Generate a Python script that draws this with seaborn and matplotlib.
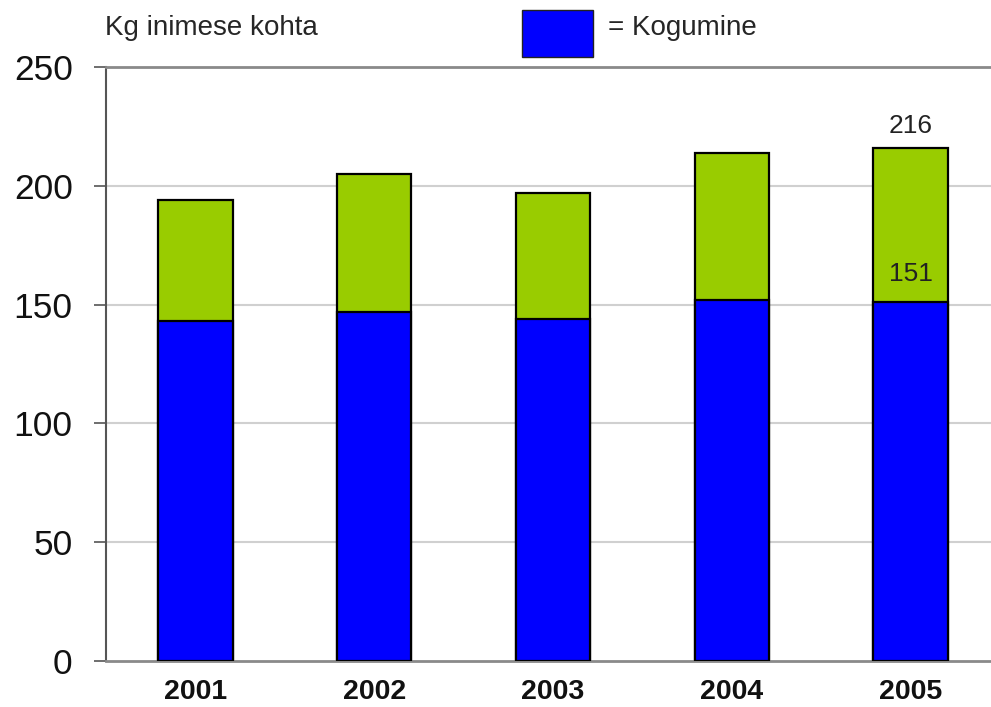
import matplotlib
matplotlib.use("Agg")
import matplotlib.pyplot as plt
import seaborn as sns
import pandas as pd
from matplotlib.patches import Rectangle

years = ["2001", "2002", "2003", "2004", "2005"]
total = [194, 205, 197, 214, 216]
collected = [143, 147, 144, 152, 151]
yticks = [0, 50, 100, 150, 200, 250]

sns.set_style("white")
plt.rcParams["font.family"] = ["Liberation Sans", "DejaVu Sans"]

df = pd.DataFrame({"year": years, "total": total, "collected": collected})

fig = plt.figure(figsize=(9.91, 7.07), dpi=100)
ax = fig.add_axes([0.107, 0.065, 0.893, 0.84])

ax.set_axisbelow(True)
for v in yticks[1:-1]:
    ax.axhline(v, color="#d0d0d0", lw=1.5, zorder=0)

sns.barplot(data=df, x="year", y="total", color="#99CC00", width=0.415,
            edgecolor="black", linewidth=1.6, saturation=1, ax=ax, zorder=2)
sns.barplot(data=df, x="year", y="collected", color="#0000FF", width=0.415,
            edgecolor="black", linewidth=1.6, saturation=1, ax=ax, zorder=3)

ax.set_ylim(0, 250)
ax.set_xlim(-0.5, 4.45)
ax.set_yticks(yticks)
ax.set_yticklabels([str(t) for t in yticks], fontsize=25.5, color="#111111")
ax.set_xticks(range(len(years)))
ax.set_xticklabels(years, fontsize=20.5, fontweight="bold", color="#111111")
ax.set_xlabel("")
ax.set_ylabel("")
ax.tick_params(axis="y", left=True, length=9, width=1.2, color="#555555", pad=15)
ax.tick_params(axis="x", bottom=False, length=0, pad=13)

for s in ["top", "bottom"]:
    ax.spines[s].set_visible(True)
    ax.spines[s].set_color("#8a8a8a")
    ax.spines[s].set_linewidth(2)
ax.spines["right"].set_visible(False)
ax.spines["left"].set_color("#555555")
ax.spines["left"].set_linewidth(1.5)

# annotations for 2005
ax.text(4, total[4] + 4, str(total[4]), ha="center", va="bottom", fontsize=19, color="#222222")
ax.text(4, collected[4] + 7, str(collected[4]), ha="center", va="bottom", fontsize=19, color="#222222")

fig.text(105 / 991, 1 - 28 / 707, "Kg inimese kohta", fontsize=20, ha="left", va="center")
fig.patches.append(Rectangle((522 / 991, 1 - 57 / 707), 71 / 991, 47 / 707,
                             transform=fig.transFigure, facecolor="#0000FF",
                             edgecolor="#222222", linewidth=1, figure=fig))
fig.text(608 / 991, 1 - 28 / 707, "= Kogumine", fontsize=20, ha="left", va="center")

fig.savefig("out.png", dpi=100)
